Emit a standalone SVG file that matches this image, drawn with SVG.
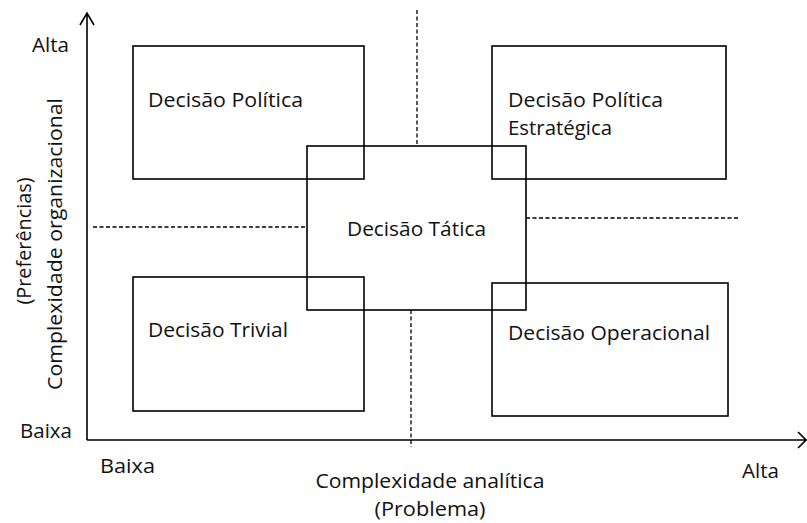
<svg xmlns="http://www.w3.org/2000/svg" width="807" height="523" viewBox="0 0 807 523">
<style>
.box{fill:none;stroke:#000;stroke-width:1.6}
.axis{fill:none;stroke:#000;stroke-width:1.6}
.dash{fill:none;stroke:#000;stroke-width:1.3;stroke-dasharray:4 2.5}
text{font-family:"Open Sans","Liberation Sans",sans-serif;font-size:20px;fill:#111}
</style>
<rect width="807" height="523" fill="#fff"/>
<g id="connectors">
<path class="axis" d="M87,440 V13 M80,25 L87,13 L94,25"/>
<path class="axis" d="M87,440 H806 M798,432 L806,440 L798,448"/>
<path class="dash" d="M417,10 V146"/>
<path class="dash" d="M93,227 H307"/>
<path class="dash" d="M526,218 H740"/>
<path class="dash" d="M411,310 V447"/>
</g>
<g id="politica">
<rect class="box" x="133" y="46" width="231" height="133"/>
<text x="148" y="107" textLength="155" lengthAdjust="spacingAndGlyphs">Decisão Política</text>
</g>
<g id="estrategica">
<rect class="box" x="492" y="46" width="234" height="133"/>
<text x="508" y="107" textLength="155" lengthAdjust="spacingAndGlyphs">Decisão Política</text>
<text x="508" y="135" textLength="104" lengthAdjust="spacingAndGlyphs">Estratégica</text>
</g>
<g id="tatica">
<rect class="box" x="307" y="146" width="219" height="164"/>
<text x="347" y="236" textLength="139" lengthAdjust="spacingAndGlyphs">Decisão Tática</text>
</g>
<g id="trivial">
<rect class="box" x="133" y="277" width="231" height="134"/>
<text x="148" y="337" textLength="140" lengthAdjust="spacingAndGlyphs">Decisão Trivial</text>
</g>
<g id="operacional">
<rect class="box" x="492" y="283" width="236" height="133"/>
<text x="508" y="340" textLength="202" lengthAdjust="spacingAndGlyphs">Decisão Operacional</text>
</g>
<g id="labels">
<text x="32" y="52" textLength="37" lengthAdjust="spacingAndGlyphs">Alta</text>
<text x="20" y="438" textLength="52" lengthAdjust="spacingAndGlyphs">Baixa</text>
<text x="100" y="473" textLength="55" lengthAdjust="spacingAndGlyphs">Baixa</text>
<text x="742" y="478" textLength="37" lengthAdjust="spacingAndGlyphs">Alta</text>
<text x="430" y="488" text-anchor="middle" textLength="229" lengthAdjust="spacingAndGlyphs">Complexidade analítica</text>
<text x="430" y="516" text-anchor="middle" textLength="111" lengthAdjust="spacingAndGlyphs">(Problema)</text>
<text transform="translate(62,244) rotate(-90)" text-anchor="middle" textLength="292" lengthAdjust="spacingAndGlyphs">Complexidade organizacional</text>
<text transform="translate(31,241) rotate(-90)" text-anchor="middle" textLength="127" lengthAdjust="spacingAndGlyphs">(Preferências)</text>
</g>
</svg>
